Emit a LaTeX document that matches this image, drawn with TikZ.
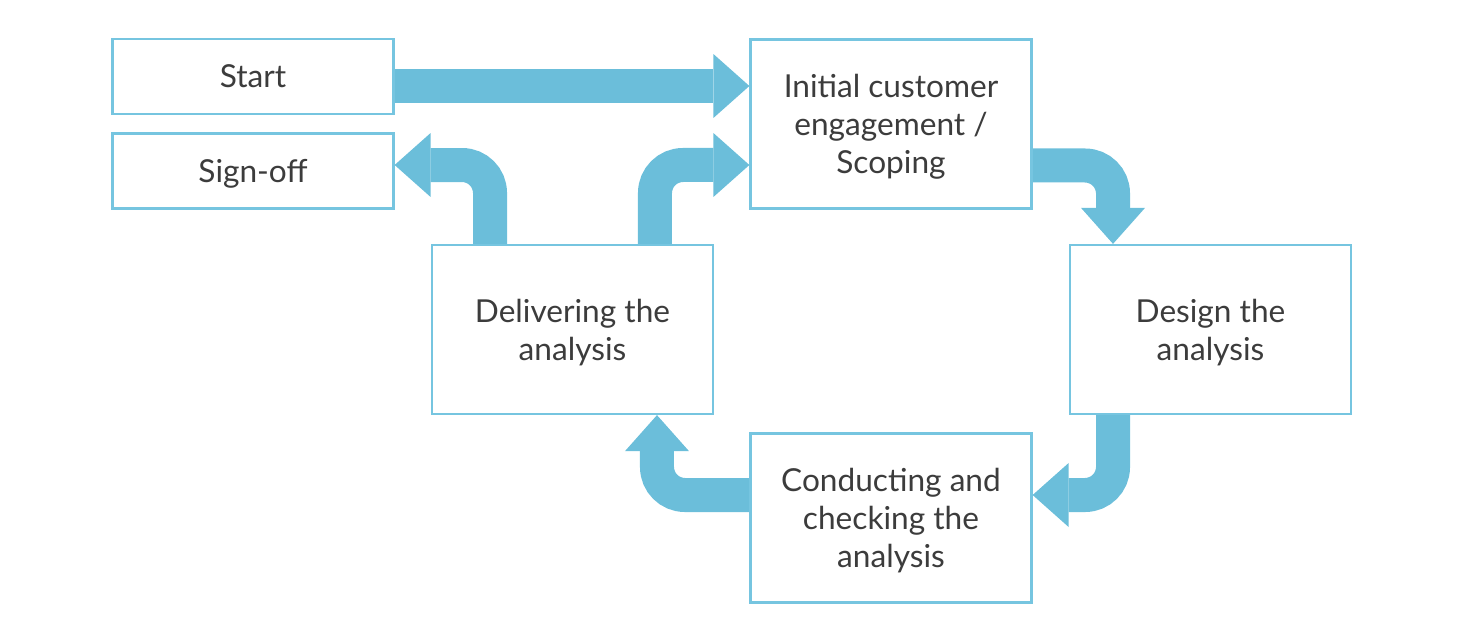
\documentclass[tikz,border=0pt]{standalone}
\usepackage{fontspec}
\setmainfont{Lato}
\usetikzlibrary{arrows.meta,backgrounds}
\definecolor{flowblue}{RGB}{107,190,218}
\definecolor{boxblue}{RGB}{118,197,224}
\definecolor{textgray}{RGB}{60,60,60}

\begin{document}
\begin{tikzpicture}[x=0.02cm,y=-0.02cm,
    stage/.style={draw=boxblue,line width=1.3pt,fill=white,text=textgray,
      align=center,inner sep=0pt,text depth=0pt,minimum width=5.62cm,minimum height=3.38cm,
      font=\fontsize{18}{21.6}\selectfont},
    small/.style={stage,minimum height=1.5cm},
    flow/.style={draw=flowblue,line width=0.68cm,rounded corners=0.56cm,
      -{Triangle[width=1.28cm,length=0.72cm,line width=0pt]}}]
            \useasboundingbox (0,0) rectangle (1461,629);
            \node [small] (start) at (253,76.5) {Start};
            \node [small] (signoff) at (253,171) {Sign-off};
            \node [stage] (initial) at (891,124) {Initial customer\\engagement /\\Scoping};
            \node [stage] (deliver) at (572.5,329.5) {Delivering the\\analysis};
            \node [stage] (design) at (1210.5,329.5) {Design the\\analysis};
            \node [stage] (conduct) at (891,518) {Conducting and\\checking the\\analysis};
            % the cycle, under the boxes
            \begin{scope}[on background layer]
              \draw [flow] ([yshift=-0.19cm]start.east) -- ([yshift=-0.19cm]start.east -| initial.west);
              \draw [flow] ([yshift=-0.83cm]initial.east) -| ([xshift=-1.95cm]design.north);
              \draw [flow] ([xshift=-1.95cm]design.south) |- ([yshift=0.46cm]conduct.east);
              \draw [flow] ([yshift=0.46cm]conduct.west) -| ([xshift=1.69cm]deliver.south);
              \draw [flow] ([xshift=1.65cm]deliver.north) |- ([yshift=-0.82cm]initial.west);
              \draw [flow] ([xshift=-1.65cm]deliver.north) |- ([yshift=0.12cm]signoff.east);
            \end{scope}
          \end{tikzpicture}
\end{document}
